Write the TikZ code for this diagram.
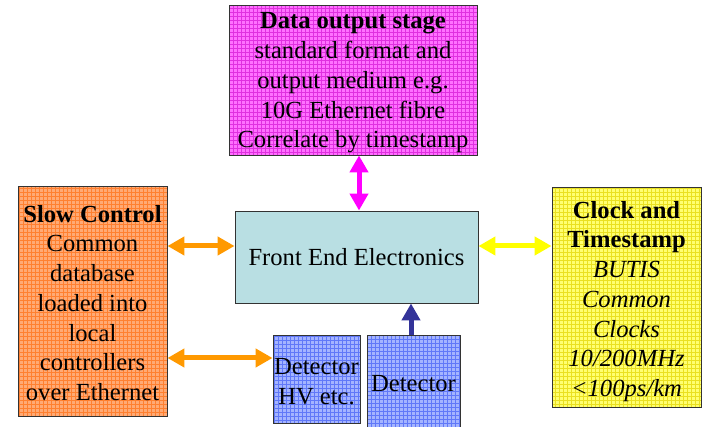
\documentclass[tikz,border=0pt]{standalone}
\usepackage{fontspec}
\setmainfont{Liberation Serif}
\usetikzlibrary{arrows.meta}

\definecolor{boxline}{HTML}{333333}
\definecolor{magfill}{HTML}{FF70FF}
\definecolor{magline}{HTML}{E030E0}
\definecolor{orfill}{HTML}{FFAA75}
\definecolor{orline}{HTML}{FF8030}
\definecolor{yelfill}{HTML}{FFFF70}
\definecolor{yelline}{HTML}{EAE020}
\definecolor{blufill}{HTML}{A4B4FF}
\definecolor{bluline}{HTML}{6078F8}
\definecolor{feefill}{HTML}{B9DFE3}
\definecolor{magarrow}{HTML}{FF00FF}
\definecolor{orarrow}{HTML}{FF9900}
\definecolor{yelarrow}{HTML}{FFFF00}
\definecolor{bluarrow}{HTML}{333399}

\tikzset{
  box/.style={draw=boxline, line width=0.9pt, align=center, inner sep=0pt,
    font=\fontsize{24.6}{29.7}\selectfont},
  gridbox/.style 2 args={box, fill=#1,
    path picture={\draw[#2, line width=0.4pt, step=4pt]
      (path picture bounding box.south west) grid (path picture bounding box.north east);}},
  link/.style={line width=5pt, {Triangle[length=17pt, width=18pt]}-{Triangle[length=17pt, width=18pt]}},
  uplink/.style={line width=5pt, -{Triangle[length=17pt, width=18pt]}},
}

\begin{document}
\begin{tikzpicture}[x=1pt, y=-1pt]
  \useasboundingbox (0,0) rectangle (704,427);

  % blocks
  \node[gridbox={magfill}{magline}, minimum width=248pt, minimum height=150pt] (out) at (353,80)
    {\rule{0pt}{22pt}\textbf{Data output stage}\\standard format and\\output medium e.g.\\10G Ethernet fibre\\Correlate by timestamp};
  \node[gridbox={orfill}{orline}, minimum width=149pt, minimum height=230pt] (slow) at (92.5,301)
    {\rule{0pt}{21pt}\textbf{Slow Control}\\Common\\database\\loaded into\\local\\controllers\\over Ethernet};
  \node[gridbox={yelfill}{yelline}, minimum width=149pt, minimum height=220pt] (clock) at (626.5,297)
    {\rule{0pt}{26pt}\textbf{Clock and}\\\textbf{Timestamp}\\\textit{BUTIS}\\\textit{Common}\\\textit{Clocks}\\\textit{10/200MHz}\\\textit{<100ps/km}};
  \node[box, fill=feefill, minimum width=243pt, minimum height=92pt] (fee) at (356.5,257)
    {Front End Electronics};
  \node[gridbox={blufill}{bluline}, minimum width=87pt, minimum height=88pt] (hv) at (316.5,379)
    {\rule{0pt}{22pt}Detector\\HV etc.};
  \node[gridbox={blufill}{bluline}, minimum width=93pt, minimum height=97pt] (det) at (413.5,383.5)
    {Detector};

  % connections
  \draw[link, magarrow] ([xshift=6pt]out.south) -- ([xshift=2.5pt]fee.north);
  \draw[link, orarrow] ([yshift=11pt]fee.west -| slow.east) -- ([yshift=11pt]fee.west);
  \draw[link, orarrow] ([yshift=21pt]hv.west -| slow.east) -- ([yshift=21pt]hv.west);
  \draw[link, yelarrow] ([yshift=11pt]fee.east) -- ([yshift=11pt]fee.east -| clock.west);
  \draw[uplink, bluarrow] ([xshift=-2.5pt]det.north) -- ([xshift=-2.5pt]det.north |- fee.south);
\end{tikzpicture}
\end{document}
